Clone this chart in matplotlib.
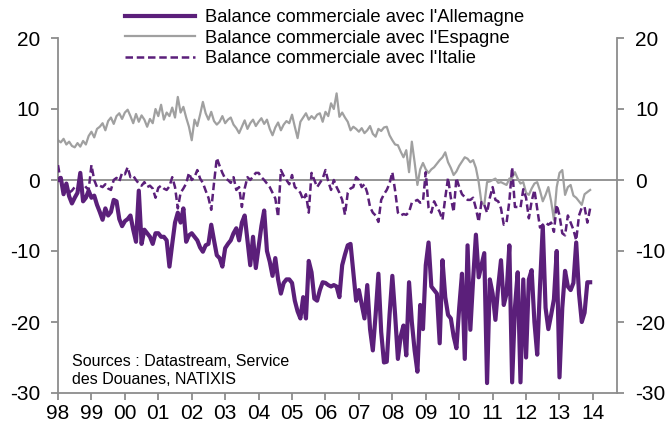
import numpy as np
import matplotlib
matplotlib.use("Agg")
import matplotlib.pyplot as plt

plt.rcParams['font.family'] = ['Liberation Sans', 'DejaVu Sans']
plt.rcParams['axes.unicode_minus'] = False

# monthly trade balances, Jan 1998 - Dec 2013 (bn EUR), one row per year
germany = [
    0.0, 0.3, -2.0, -0.5, -2.3, -3.3, -2.5, -1.8, 1.0, -3.0, -2.5, -1.5,
    -2.5, -2.2, -3.5, -4.5, -5.6, -4.0, -5.0, -4.5, -2.8, -3.0, -5.5, -6.5,
    -5.8, -5.5, -5.0, -7.0, -8.7, -1.5, -9.0, -7.0, -7.5, -8.0, -9.0, -7.5,
    -7.5, -8.0, -8.0, -8.5, -12.2, -9.0, -6.0, -4.6, -6.0, -4.0, -8.7, -7.8,
    -7.5, -8.0, -8.5, -9.5, -10.1, -9.2, -9.0, -6.3, -8.5, -10.6, -11.0, -12.2,
    -9.6, -9.0, -8.5, -7.5, -6.8, -8.5, -6.0, -5.0, -8.5, -12.0, -8.0, -12.4,
    -9.5, -6.5, -4.3, -10.0, -11.5, -13.5, -11.0, -14.0, -16.0, -14.5, -14.0, -14.0,
    -14.5, -17.0, -18.5, -19.5, -16.5, -19.5, -11.4, -13.0, -16.7, -17.0, -15.5, -14.4,
    -14.5, -14.8, -15.0, -14.8, -15.0, -16.5, -12.0, -10.5, -9.2, -9.0, -13.0, -17.0,
    -15.5, -17.5, -19.5, -14.8, -21.0, -24.0, -19.0, -13.2, -21.4, -25.7, -25.6, -19.0,
    -13.5, -19.0, -25.2, -22.0, -20.5, -24.7, -14.4, -20.0, -24.0, -27.0, -17.6, -21.0,
    -12.0, -8.8, -15.0, -15.5, -16.0, -23.0, -11.3, -16.5, -19.0, -19.5, -22.0, -23.7,
    -18.0, -13.2, -25.2, -9.2, -21.1, -14.0, -7.7, -13.7, -12.0, -10.3, -28.6, -14.0,
    -16.0, -19.7, -15.0, -11.3, -17.6, -16.0, -9.2, -28.5, -18.0, -13.0, -28.5, -14.0,
    -25.0, -14.0, -12.7, -20.0, -24.6, -15.0, -6.5, -18.0, -21.0, -19.0, -16.8, -10.0,
    -27.8, -18.0, -12.8, -15.0, -15.5, -14.5, -8.8, -16.0, -20.0, -18.7, -14.4, -14.4,
]

spain = [
    5.6, 5.3, 5.8, 5.0, 5.4, 4.8, 4.6, 5.2, 4.7, 5.5, 5.0, 6.2,
    6.8, 6.0, 7.2, 7.5, 8.0, 7.0, 8.3, 8.8, 7.9, 9.0, 9.4, 8.6,
    9.5, 9.9, 9.0, 8.0, 9.3, 8.2, 9.1, 8.5, 7.5, 8.6, 8.0, 10.0,
    9.0, 10.6, 8.5, 9.5, 9.0, 10.2, 8.8, 11.7, 9.5, 10.3, 8.8, 7.5,
    5.6, 8.5, 7.6, 9.2, 11.0, 9.4, 8.5, 9.6, 8.3, 7.8, 8.2, 9.0,
    8.0, 8.5, 8.8, 7.8, 7.3, 6.6, 7.5, 8.4, 7.2, 8.0, 8.5, 7.6,
    8.2, 8.7, 7.9, 8.5, 7.2, 6.3, 7.4, 8.1, 7.0, 7.8, 8.3, 8.0,
    9.2, 7.5, 5.9, 8.2, 8.8, 9.4, 8.5, 9.0, 8.6, 9.2, 9.4, 8.2,
    9.6, 9.0, 10.8, 10.0, 12.2, 8.9, 9.5, 8.8, 8.2, 7.0, 7.5, 7.2,
    6.8, 7.3, 6.6, 7.0, 7.6, 6.5, 6.1, 7.2, 6.9, 7.4, 7.5, 6.3,
    5.6, 5.0, 4.9, 4.0, 3.2, 4.2, 1.1, 5.4, 2.5, -0.7, 1.5, 2.4,
    1.5, 1.0, 1.5, 1.8, 2.3, 2.8, 3.2, 3.9, 2.5, 1.7, 0.7, 1.2,
    2.0, 2.6, 3.2, 3.0, 2.5, 2.8, 1.7, -0.3, -3.2, -3.5, -0.3, -0.2,
    0.0, 0.2, -0.4, -0.3, -0.5, -0.7, 0.2, 0.3, 1.1, 0.2, -0.5, -0.3,
    -1.8, -2.1, -1.2, -0.5, -0.3, -1.5, -3.0, -2.1, -1.0, -3.0, -5.6, -1.0,
    1.0, 1.4, -2.1, -1.0, -0.7, -2.2, -2.5, -3.0, -3.5, -2.0, -1.7, -1.4,
]

italy = [
    2.1, -0.2, -1.0, -0.8, -1.8, -1.5, -1.0, -1.2, -0.6, -0.5, -1.0, -1.4,
    2.1, 0.0, -1.0, -0.8, -1.0, -0.6, -1.2, -1.4, 0.0, 0.3, -0.2, 1.0,
    0.8, 1.8, 0.4, 0.6, 0.0, -0.5, -0.8, -0.3, -1.0, -0.8, -1.2, -2.5,
    -1.1, -0.8, -1.2, -1.4, -0.9, 0.4, -1.0, -4.0, -1.8, -1.2, -0.5, 1.0,
    0.0, 0.4, 1.4, 0.2, -0.4, -1.5, -2.5, -4.2, -0.4, 3.1, 2.0, 1.0,
    0.2, 0.0, -0.4, 0.4, -1.4, -1.0, -3.8, -1.2, 0.4, 0.0, 0.5, 1.0,
    1.0, 0.4, 0.0, -0.5, -1.0, -1.8, -2.6, -5.2, 1.4, 0.6, 0.0, -0.6,
    0.7, -1.0, -1.3, -1.8, -2.8, -2.0, -4.6, 1.0, 0.0, -1.0, -0.4, 0.2,
    1.4, -0.2, -1.4, 0.0, -1.0, -1.8, -2.8, -4.9, -1.8, -1.2, -1.0, 0.4,
    0.0, -1.0, -0.6, -1.8, -3.8, -4.6, -5.0, -5.9, -2.8, -2.0, -1.4, -0.5,
    1.1, -1.5, -4.6, -5.0, -4.8, -4.9, -4.5, -3.2, -3.0, -2.8, -3.2, -3.0,
    1.1, -3.9, -4.6, -3.0, -3.8, -4.5, -5.6, -2.5, 0.3, -2.5, -4.5, 0.3,
    -1.0, -2.0, -2.4, -2.8, -2.8, -2.5, -4.0, -5.9, -3.1, -3.5, -4.6, -2.5,
    -1.0, -2.8, -3.0, -4.0, -6.3, -6.0, -3.0, 1.8, -3.8, -3.8, -3.9, -1.3,
    -2.5, -5.4, -3.0, -1.4, -4.0, -6.7, -6.3, -6.0, -6.3, -6.0, -7.3, -3.5,
    -5.0, -7.5, -7.8, -5.0, -6.0, -7.0, -8.5, -5.0, -3.9, -3.8, -6.0, -4.0,
]

year_ticks = list(range(1998, 2015))
year_labels = ['98', '99', '00', '01', '02', '03', '04', '05', '06',
               '07', '08', '09', '10', '11', '12', '13', '14']

t = 1998 + np.arange(len(germany)) / 12.0

purple = '#5b1f7a'
grey = '#a0a0a0'
axis_grey = '#8c8c8c'

fig = plt.figure(figsize=(6.72, 4.30), dpi=100)
ax = fig.add_axes([58 / 672, 37 / 430, 559 / 672, 355 / 430])

ax.axhline(0, color=axis_grey, lw=1.3, zorder=1)
ax.plot(t, spain, color=grey, lw=1.6, zorder=2,
        label="Balance commerciale avec l'Espagne")
ax.plot(t, italy, color=purple, lw=1.8, ls=(0, (3.0, 1.5)), zorder=3,
        label="Balance commerciale avec l'Italie")
ax.plot(t, germany, color=purple, lw=3.0, zorder=4,
        label="Balance commerciale avec l'Allemagne")

ax.set_xlim(1998, 2014.72)
ax.set_ylim(-30, 20)
ax.set_yticks(range(-30, 21, 10))
ax.set_xticks(year_ticks)
ax.set_xticklabels(year_labels)

for s in ['left', 'right', 'bottom']:
    ax.spines[s].set_color(axis_grey)
    ax.spines[s].set_linewidth(1.3)
ax.spines['top'].set_visible(False)

ax.tick_params(axis='y', which='both', left=True, right=True,
               labelleft=True, labelright=True, direction='out',
               length=5, width=1.3, color=axis_grey, labelsize=15, pad=8)
ax.tick_params(axis='x', direction='out', length=5, width=1.3,
               color=axis_grey, labelsize=15, pad=3)

ax.text(0.025, 0.018, "Sources : Datastream, Service\ndes Douanes, NATIXIS",
        transform=ax.transAxes, fontsize=11.5, va='bottom', ha='left',
        linespacing=1.25)

h, l = ax.get_legend_handles_labels()
order = [2, 0, 1]
fig.legend([h[i] for i in order], [l[i] for i in order],
           loc='upper left', bbox_to_anchor=(125 / 672, 1 - 9 / 430),
           frameon=False, fontsize=13.2, handlelength=3.8,
           handletextpad=0.55, labelspacing=0.2, borderpad=0,
           borderaxespad=0)

fig.savefig('out.png', dpi=100)
